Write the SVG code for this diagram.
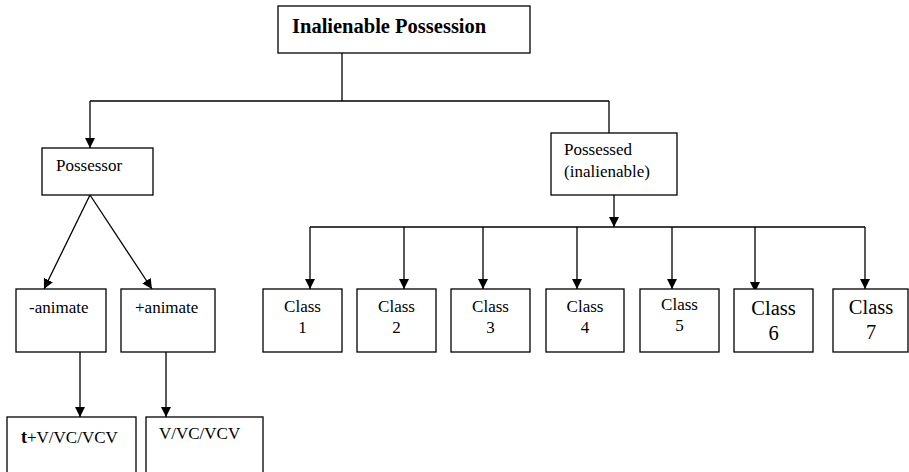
<svg xmlns="http://www.w3.org/2000/svg" width="909" height="472" viewBox="0 0 909 472">
<defs>
<marker id="ah" markerUnits="userSpaceOnUse" markerWidth="11" markerHeight="11" refX="10" refY="5" orient="auto">
<path d="M0,0 L10,5 L0,10 z" fill="#000"/>
</marker>
<style>
rect{fill:#fff;stroke:#000;stroke-width:1.3}
.c line,.c path{stroke:#000;stroke-width:1.3;fill:none}
.a{marker-end:url(#ah)}
text{font-family:"Liberation Serif","Times New Roman",serif;font-size:17px;fill:#000}
.m{text-anchor:middle}
.big{font-size:20.5px}
</style>
</defs>
<g class="c" id="connectors">
<line x1="342" y1="53" x2="342" y2="101"/>
<line x1="90" y1="101" x2="609" y2="101"/>
<line class="a" x1="90" y1="101" x2="90" y2="148"/>
<line x1="609" y1="101" x2="609" y2="133"/>
<line class="a" x1="90" y1="195" x2="44" y2="289"/>
<line class="a" x1="90" y1="195" x2="152" y2="289"/>
<line class="a" x1="80" y1="352" x2="80" y2="417"/>
<line class="a" x1="166" y1="352" x2="166" y2="417"/>
<line class="a" x1="614" y1="195" x2="614" y2="227"/>
<line x1="310" y1="227" x2="865" y2="227"/>
<line class="a" x1="310" y1="227" x2="310" y2="289"/>
<line class="a" x1="404" y1="227" x2="404" y2="289"/>
<line class="a" x1="483" y1="227" x2="483" y2="289"/>
<line class="a" x1="577" y1="227" x2="577" y2="289"/>
<line class="a" x1="672" y1="227" x2="672" y2="289"/>
<line class="a" x1="755" y1="227" x2="755" y2="292"/>
<line class="a" x1="865" y1="227" x2="865" y2="289"/>
</g>
<g id="title"><rect x="278" y="6" width="252" height="47"/><text x="292" y="33" font-weight="bold" class="big">Inalienable Possession</text></g>
<g id="possessor"><rect x="42" y="148" width="111" height="47"/><text x="56" y="171">Possessor</text></g>
<g id="possessed"><rect x="551" y="133" width="126" height="62"/><text x="564" y="155">Possessed</text><text x="564" y="177">(inalienable)</text></g>
<g id="minus-animate"><rect x="16" y="289" width="90" height="63"/><text x="29" y="313">-animate</text></g>
<g id="plus-animate"><rect x="121" y="289" width="94" height="63"/><text x="135" y="313">+animate</text></g>
<g id="t-vcv"><rect x="7" y="417" width="129" height="60"/><text x="21" y="443"><tspan font-weight="bold" font-size="18">t</tspan>+V/VC/VCV</text></g>
<g id="vcv"><rect x="146" y="417" width="117" height="60"/><text x="159" y="439">V/VC/VCV</text></g>
<g id="class1"><rect x="263" y="289" width="79" height="63"/><text class="m" x="302.5" y="312">Class</text><text class="m" x="302.5" y="333">1</text></g>
<g id="class2"><rect x="357" y="289" width="79" height="63"/><text class="m" x="396.5" y="312">Class</text><text class="m" x="396.5" y="333">2</text></g>
<g id="class3"><rect x="451" y="289" width="79" height="63"/><text class="m" x="490.5" y="312">Class</text><text class="m" x="490.5" y="333">3</text></g>
<g id="class4"><rect x="546" y="289" width="78" height="63"/><text class="m" x="585" y="312">Class</text><text class="m" x="585" y="333">4</text></g>
<g id="class5"><rect x="640" y="289" width="79" height="63"/><text class="m" x="679.5" y="310">Class</text><text class="m" x="679.5" y="331">5</text></g>
<g id="class6"><rect x="734" y="289" width="79" height="63"/><text class="m big" x="773.5" y="315">Class</text><text class="m big" x="773.5" y="340">6</text></g>
<g id="class7"><rect x="833" y="289" width="75" height="63"/><text class="m big" x="871" y="314">Class</text><text class="m big" x="871" y="339">7</text></g>
</svg>
